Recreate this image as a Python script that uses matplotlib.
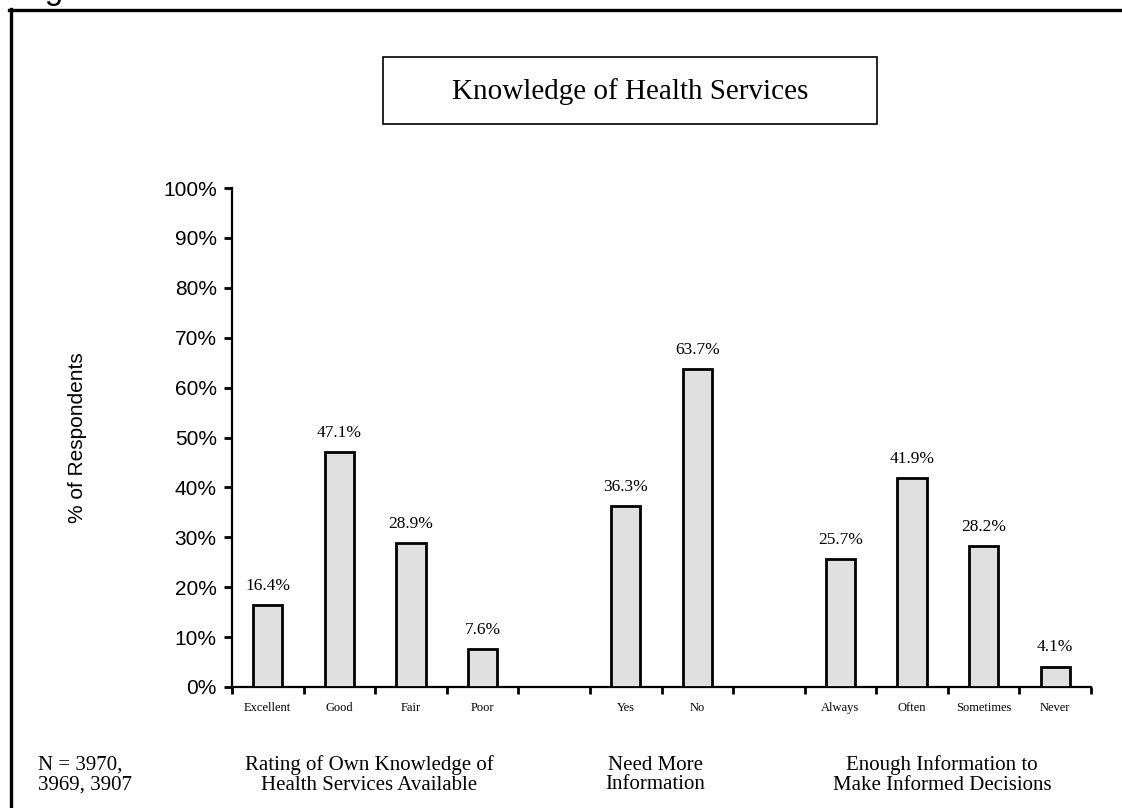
import matplotlib
matplotlib.use("Agg")
import matplotlib.pyplot as plt
from matplotlib.lines import Line2D
from matplotlib.patches import Rectangle
import numpy as np

# data
rating_labels = ["Excellent", "Good", "Fair", "Poor"]
rating_values = [16.4, 47.1, 28.9, 7.6]
need_labels = ["Yes", "No"]
need_values = [36.3, 63.7]
enough_labels = ["Always", "Often", "Sometimes", "Never"]
enough_values = [25.7, 41.9, 28.2, 4.1]
group_titles = ["Rating of Own Knowledge of\nHealth Services Available",
                "Need More\nInformation",
                "Enough Information to\nMake Informed Decisions"]
yticks = list(range(0, 101, 10))

serif = "Liberation Serif"
sans = "Liberation Sans"

W, H = 1122, 808
fig = plt.figure(figsize=(W / 100, H / 100), dpi=100)
ax = fig.add_axes([232 / W, 1 - 687 / H, 859 / W, 499 / H])

groups = [(rating_labels, rating_values), (need_labels, need_values),
          (enough_labels, enough_values)]

# slot positions: one empty slot between groups
pos, labels, vals, centers = [], [], [], []
start = 0
for labs, vs in groups:
    xs = [start + i + 0.5 for i in range(len(labs))]
    pos += xs
    labels += labs
    vals += vs
    centers.append(start + len(labs) / 2)
    start += len(labs) + 1

ax.bar(pos, vals, width=0.41, color="#e0e0e0", edgecolor="black", linewidth=2, zorder=3)
for x, v in zip(pos, vals):
    ax.annotate(f"{v}%", (x, v), xytext=(0, 8), textcoords="offset points",
                ha="center", va="bottom", fontfamily=serif, fontsize=12.5)

ax.set_xlim(0, start - 1)
ax.set_ylim(0, 100)
ax.set_xticks(np.arange(0, start))
ax.set_xticklabels([])
ax.set_xticks(pos, minor=True)
ax.set_xticklabels(labels, minor=True, fontfamily=serif, fontsize=9)
ax.tick_params(axis="x", which="major", direction="out", length=5, width=2)
ax.tick_params(axis="x", which="minor", length=0, pad=11)
ax.set_yticks(yticks)
ax.set_yticklabels([f"{t}%" for t in yticks], fontfamily=sans, fontsize=15)
ax.tick_params(axis="y", direction="out", length=6, width=2, pad=5)
ax.set_ylabel("% of Respondents", fontfamily=sans, fontsize=15, labelpad=55)
for s in ["top", "right"]:
    ax.spines[s].set_visible(False)
for s in ["left", "bottom"]:
    ax.spines[s].set_linewidth(1.6)

# group titles under the axis
for c, t in zip(centers, group_titles):
    xf = ax.transData.transform((c, 0))[0] / W - 6 / W
    fig.text(xf, 1 - 775 / H, t, ha="center", va="center", multialignment="center",
             fontfamily=serif, fontsize=15, linespacing=1.05)

fig.text(38 / W, 1 - 775 / H, "N = 3970,\n3969, 3907", ha="left", va="center",
         fontfamily=serif, fontsize=15, linespacing=1.05)

# title box
fig.add_artist(Rectangle((383 / W, 1 - 124 / H), 494 / W, 67 / H, fill=False,
                         lw=1.2, edgecolor="black", transform=fig.transFigure))
fig.text(630 / W, 1 - 92 / H, "Knowledge of Health Services", ha="center", va="center",
         fontfamily=serif, fontsize=21)

# page frame and the caption above it, clipped by the page edge
fig.add_artist(Line2D([10.5 / W, 10.5 / W], [0, 1 - 9 / H], lw=2.4, color="black",
                      transform=fig.transFigure))
fig.add_artist(Line2D([9 / W, 1], [1 - 10 / H, 1 - 10 / H], lw=2.4, color="black",
                      transform=fig.transFigure))
fig.text(17 / W, 1 + 1 / H, "Figure 6", ha="left", va="baseline", fontfamily=sans, fontsize=24)

fig.savefig("out.png", dpi=100)
